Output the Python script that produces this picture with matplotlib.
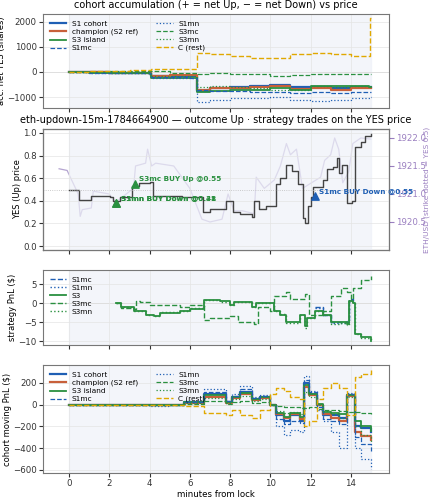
import matplotlib.pyplot as plt
import numpy as np

# ---- panel 1: accumulated net YES shares
t_acc = [0, 1, 2, 3, 4, 4.05, 5, 6, 6.3, 6.35, 7, 8, 9, 10, 11, 12, 13, 14, 14.9, 14.95, 15]
acc = {
    'S1 cohort':        [0, -20, -40, -50, -60, -180, -170, -160, -160, -750, -650, -600, -550, -500, -600, -600, -650, -600, -600, -600, -600],
    'champion (S2 ref)': [0, -20, -40, -50, -60, -150, -130, -120, -120, -700, -650, -620, -580, -550, -680, -650, -700, -650, -650, -650, -650],
    'S3 island':        [0, -40, -50, -60, -70, -220, -230, -240, -240, -800, -750, -720, -700, -650, -700, -550, -550, -550, -580, -600, -600],
    'S1mc':             [0, -30, -40, -50, -60, -200, -210, -220, -220, -700, -750, -760, -780, -800, -850, -800, -850, -780, -800, -800, -800],
    'S1mn':             [0, -30, -50, -60, -80, -220, -230, -240, -240, -1200, -1100, -1050, -1050, -1000, -1100, -1150, -1100, -1050, -1050, -1000, -1000],
    'S3mc':             [0, 10, 20, 30, 40, 50, -30, -60, -60, -80, -60, -70, -100, -150, -120, -80, -100, -80, -80, -100, -100],
    'S3mn':             [0, -10, -30, -40, -50, -150, -150, -160, -160, -600, -550, -600, -650, -700, -700, -550, -600, -550, -600, -550, -550],
    'C (rest)':         [0, 20, 50, 70, 80, 130, 100, 100, 100, 750, 700, 650, 550, 550, 700, 750, 700, 650, 650, 2150, 2150],
}

# ---- panel 2: YES price and ETH
t_yes = [0, 0.5, 1.07, 2.05, 2.2, 2.55, 3.1, 3.45, 4.0, 4.15, 4.85, 5.6, 6.66, 7.0, 7.8, 8.15, 8.5, 9.1, 9.2, 9.45, 9.8,
         10.3, 10.5, 10.8, 11.1, 11.4, 11.6, 11.7, 11.85, 12.0, 12.1, 12.6, 12.8, 13.1, 13.3, 13.4, 13.55, 13.8, 14.05,
         14.2, 14.5, 14.7, 15.0]
yes = [0.50, 0.41, 0.44, 0.43, 0.40, 0.43, 0.53, 0.56, 0.57, 0.44, 0.44, 0.43, 0.30, 0.33, 0.40, 0.30, 0.28, 0.26, 0.40,
       0.33, 0.35, 0.55, 0.60, 0.72, 0.66, 0.55, 0.25, 0.20, 0.35, 0.43, 0.52, 0.58, 0.68, 0.70, 0.78, 0.65, 0.72, 0.38,
       0.40, 0.88, 0.92, 0.97, 0.99]
t_eth = [-0.5, -0.1, 0.45, 0.55, 0.65, 1.1, 1.2, 2.0, 2.3, 3.2, 3.3, 3.8, 3.9, 4.1, 4.3, 5.2, 5.6, 6.0, 6.6, 7.0, 7.6,
         7.9, 8.2, 8.6, 9.2, 9.3, 9.7, 10.2, 10.5, 10.8, 11.0, 11.3, 11.6, 12.5, 12.7, 13.0, 13.2, 13.4, 13.6, 13.9,
         14.1, 14.5, 15.0]
eth = [1921.45, 1921.42, 1921.0, 1920.6, 1920.72, 1920.75, 1921.05, 1921.0, 1920.85, 1921.1, 1921.5, 1921.55, 1921.8,
       1921.5, 1921.55, 1921.5, 1921.3, 1921.1, 1920.55, 1920.5, 1920.55, 1921.0, 1920.7, 1920.7, 1920.65, 1921.3,
       1921.1, 1921.25, 1921.5, 1921.9, 1921.7, 1921.8, 1921.1, 1921.3, 1921.6, 1921.7, 1922.0, 1921.8, 1921.2,
       1921.4, 1921.9, 1922.0, 1921.98]
trades = [  # (t, price, label, colour)
    (2.35, 0.38, 'S1mn BUY Down @0.38', '#2a9040'),
    (2.35, 0.38, 'S3mn BUY Down @0.41', '#2a9040'),
    (3.25, 0.55, 'S3mc BUY Up @0.55', '#2a9040'),
    (12.2, 0.44, 'S1mc BUY Down @0.55', '#1f5fb4'),
]

# ---- panel 3: strategy PnL
t_s3 = [2.35, 2.6, 3.2, 3.8, 4.2, 4.5, 5.5, 6.0, 6.7, 7.5, 8.0, 8.2, 9.1, 9.3, 10.2, 10.5, 10.8, 11.5, 11.7, 11.8,
        12.2, 12.6, 13.0, 13.5, 13.8, 13.9, 14.1, 14.2, 14.5, 15.0]
s3 = [0, -1, -2, -3, -3.5, -2.5, -2, -1.5, 0.8, 0.5, -0.5, 0.2, -1, 0, -2, -3, -5, -3, -6, -4,
      -2, -3, -5, -5, -5.5, 0.5, 0, -8, -9, -10]
s3mn = [0, -1, -2, -3, -3.4, -2.4, -2, -1.4, 0.7, 0.4, -0.4, 0.3, -0.9, 0.1, -2, -2.8, -5.2, -3.2, -6.5, -4,
        -2, -3, -5.5, -5.2, -5.8, 0.4, 0, -8.2, -9.2, -10.2]
t_s3mc = [2.35, 2.6, 3.2, 3.3, 3.5, 4.0, 5.5, 6.0, 6.7, 7.0, 8.0, 8.4, 9.2, 9.4, 10.0, 10.2, 10.8, 11.0, 11.7, 11.9,
          12.6, 13.0, 13.5, 13.8, 14.0, 14.1, 14.5, 15.0]
s3mc = [0, -1.2, -1.5, 0.5, 0.3, -0.5, -1, -0.5, -4.5, -4, -3.5, -5, -5.5, -1, -2, 2, 3, 1, 2.5, -3,
        -2, 2, 4, 3, 1, 4, 6, 7]
t_s1 = [12.2, 12.6, 13.0, 13.8, 13.9, 14.1]
s1mc = [-1, -3, -5, -5, 1, 0.5]
s1mn = [-1.2, -3.2, -5.2, -4.8, 0.8, 0.6]

# ---- panel 4: cohort moving PnL
t_mv = [0, 3, 4, 5, 5.7, 6.7, 7.8, 8.1, 8.5, 9.1, 9.5, 10.0, 10.3, 10.7, 11.0, 11.5, 11.65, 11.9, 12.3, 12.6,
        13.0, 13.4, 13.8, 14.2, 14.5, 15]
mv = {
    'S1 cohort':        [0, 0, -5, 0, 20, 100, 20, 70, 120, 50, 70, 0, -100, -150, -100, -150, 200, 100, 0, -100, -100, -120, 90, -200, -220, -250],
    'champion (S2 ref)': [0, 0, -5, 0, 15, 70, 15, 60, 100, 40, 60, 0, -90, -120, -90, -130, 160, 90, 0, -90, -120, -150, 80, -250, -290, -330],
    'S3 island':        [0, 0, -5, 0, 20, 90, 20, 70, 110, 50, 70, 0, -80, -110, -80, -110, 180, 100, 10, -70, -80, -90, 90, -150, -200, -240],
    'S1mc':             [0, 0, -5, 0, 25, 120, 30, 80, 140, 60, 80, 0, -130, -180, -150, -170, 230, 120, -20, -130, -150, -180, 100, -300, -360, -430],
    'S1mn':             [0, 0, -10, 0, 30, 140, 30, 100, 170, 70, 90, 0, -200, -280, -230, -250, 260, 130, -50, -150, -250, -400, 110, -400, -500, -590],
    'S3mc':             [0, 0, 0, 0, 10, 30, 10, 20, 30, 15, 20, 0, -10, -20, -20, -30, -30, -20, -40, -50, -50, -60, -70, -70, -80, -90],
    'S3mn':             [0, 0, -3, 0, 15, 60, 15, 50, 80, 30, 50, 0, -60, -80, -70, -90, 120, 70, 0, -60, -90, -120, 70, -200, -280, -350],
    'C (rest)':         [0, 0, 0, 0, -10, -80, -100, -50, -100, -120, -50, 100, 150, 130, 70, 50, -200, -150, 50, 150, 200, 150, -100, 250, 280, 320],
}

BLUE, RED, GREEN, GOLD = '#1f5fb4', '#c8603a', '#2a9040', '#e0a800'
styles = {
    'S1 cohort': dict(color=BLUE, lw=1.6, ls='-'),
    'champion (S2 ref)': dict(color=RED, lw=1.6, ls='-'),
    'S3 island': dict(color=GREEN, lw=1.3, ls='-'),
    'S1mc': dict(color=BLUE, lw=0.9, ls='--'),
    'S1mn': dict(color=BLUE, lw=0.9, ls=':'),
    'S3mc': dict(color=GREEN, lw=0.9, ls='--'),
    'S3mn': dict(color=GREEN, lw=0.9, ls=':'),
    'C (rest)': dict(color=GOLD, lw=1.0, ls='--'),
}

plt.rcParams['font.size'] = 6.5
fig = plt.figure(figsize=(4.32, 5.0), dpi=100)
W, H = 432, 500
def box(top, bot):
    return [43 / W, 1 - bot / H, (389 - 43) / W, (bot - top) / H]

axs = [fig.add_axes(box(14, 108)), fig.add_axes(box(129, 250)),
       fig.add_axes(box(270, 345)), fig.add_axes(box(365, 473))]
for ax in axs:
    ax.axvspan(0, 15, color='#eef1f8', alpha=0.7, zorder=0)
    ax.grid(color='#e4e4e4', lw=0.5)
    ax.set_xlim(-1.3, 15.9)
    ax.set_xticks(range(0, 15, 2))
    ax.tick_params(labelsize=6.2, length=3, pad=1.5, colors='#333333')
    for s in ax.spines.values():
        s.set_color('#777777')
    if ax is not axs[3]:
        ax.tick_params(labelbottom=False)

ax = axs[0]
for name, vals in acc.items():
    ax.step(t_acc, vals, where='post', label=name, **styles[name])
ax.axhline(0, color='#cccccc', lw=0.6, zorder=1)
ax.set_ylim(-1430, 2300)
ax.set_yticks([-1000, 0, 1000, 2000])
ax.set_ylabel('acc. net YES (shares)', fontsize=6, labelpad=1)
ax.set_title('cohort accumulation (+ = net Up, − = net Down) vs price', fontsize=7, pad=4)
ax.legend(ncol=2, fontsize=5.3, loc='upper left', frameon=False, handlelength=2.2, labelspacing=0.25, columnspacing=2.5)

ax = axs[1]
ax2 = ax.twinx()
ax2.plot(t_eth, eth, color='#b4a4d0', lw=0.9)
ax2.set_ylim(1920.0, 1922.16)
ax2.set_yticks([1920.5, 1921.0, 1921.5, 1922.0])
ax2.tick_params(labelsize=6.2, pad=1.5, colors='#9a7fc0')
ax2.set_ylabel('ETH/USD (strike dotted = YES 0.5)', fontsize=5.3, color='#9a7fc0')
ax2.yaxis.set_label_coords(1.1, 0.5)
ax.set_zorder(ax2.get_zorder() + 1)
ax.patch.set_visible(False)
ax.step(t_yes, yes, where='post', color='#444444', lw=1.0)
ax.axhline(0.5, color='#bbbbbb', lw=0.6, ls=':')
for t, p, lab, c in trades:
    ax.scatter([t], [p], marker='^', s=28, color=c, zorder=5)
    ax.annotate(lab, (t, p), xytext=(3, 2), textcoords='offset points', fontsize=5.2,
                color=c, fontweight='bold')
ax.set_ylim(-0.035, 1.035)
ax.set_ylabel('YES (Up) price', fontsize=6, labelpad=1)
ax.set_title('eth-updown-15m-1784664900 — outcome Up · strategy trades on the YES price', fontsize=7, pad=4)

ax = axs[2]
ax.step(t_s1, s1mc, where='post', label='S1mc', color=BLUE, lw=1.0, ls='--')
ax.step(t_s1, s1mn, where='post', label='S1mn', color=BLUE, lw=1.0, ls=':')
ax.step(t_s3, s3, where='post', label='S3', color=GREEN, lw=1.3)
ax.step(t_s3mc, s3mc, where='post', label='S3mc', color=GREEN, lw=1.0, ls='--')
ax.step(t_s3, s3mn, where='post', label='S3mn', color=GREEN, lw=1.0, ls=':')
ax.axhline(0, color='#cccccc', lw=0.6, zorder=1)
ax.set_ylim(-11, 8.7)
ax.set_yticks([-10, -5, 0, 5])
ax.set_ylabel('strategy PnL ($)', fontsize=6, labelpad=1)
ax.legend(fontsize=5.3, loc='upper left', frameon=False, handlelength=2.2, labelspacing=0.25)

ax = axs[3]
for name, vals in mv.items():
    ax.step(t_mv, vals, where='post', label=name, **styles[name])
ax.axhline(0, color='#cccccc', lw=0.6, zorder=1)
ax.set_ylim(-630, 365)
ax.set_yticks([-600, -400, -200, 0, 200])
ax.set_ylabel('cohort moving PnL ($)', fontsize=6, labelpad=1)
ax.set_xlabel('minutes from lock', fontsize=6.2, labelpad=1)
ax.legend(ncol=2, fontsize=5.3, loc='upper left', frameon=False, handlelength=2.2, labelspacing=0.25, columnspacing=2.5)

fig.savefig('out.png', dpi=100)
